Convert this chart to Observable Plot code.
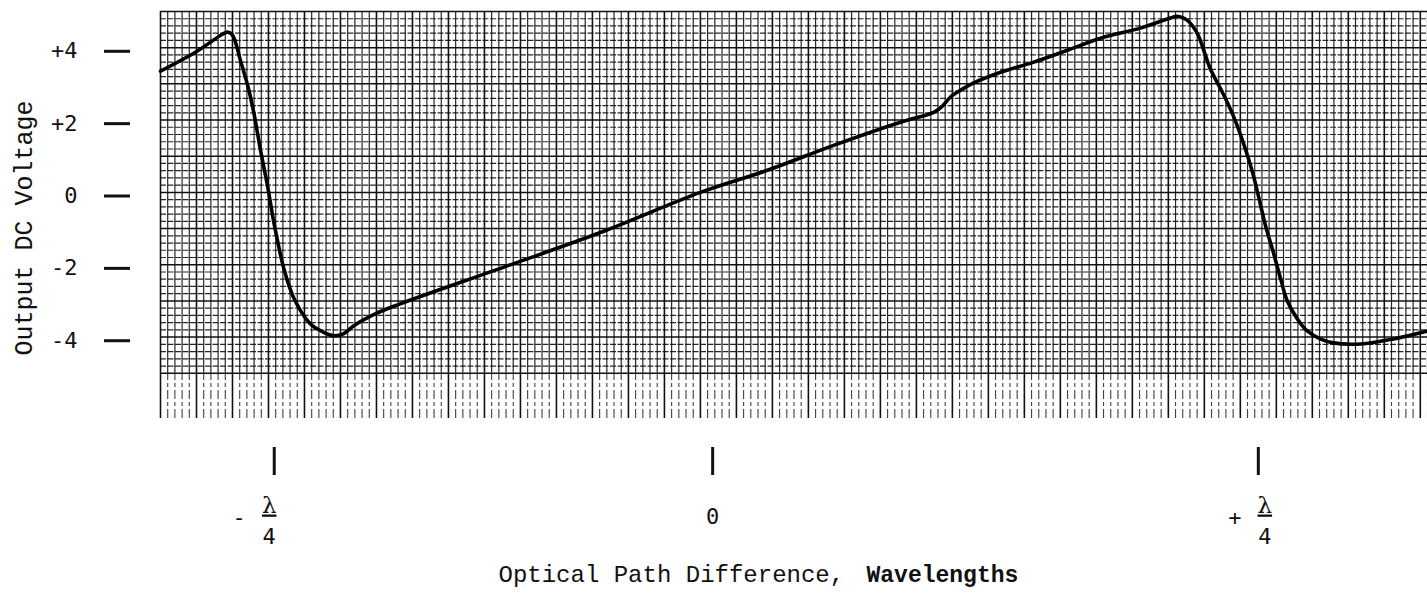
<!DOCTYPE html>
<html><head><meta charset="utf-8">
<script src="https://cdn.jsdelivr.net/npm/d3@7"></script>
<script src="https://cdn.jsdelivr.net/npm/@observablehq/plot@0.6"></script>
<style>body{margin:0;background:#fff} svg{display:block;background:#fff}</style>
</head><body><div id="chart"></div>
<script>
// x: recorder-paper divisions, y: output DC voltage (V)
const traceDiv = [0, 4.9, 8.6, 9.3, 10.0, 11.1, 12.1, 12.9, 13.9, 14.9, 15.7, 16.4, 17.1, 18.5, 20.8, 22.5, 24.0, 25.4, 26.8, 29.9, 33.3, 48.2, 61.1, 75.0, 84.3, 93.5, 102.8, 107.4, 108.6, 109.7, 111.1, 112.9, 116.7, 121.3, 126.0, 130.6, 136.1, 140.3, 141.2, 142.6, 144.0, 145.8, 147.5, 149.0, 150.4, 151.7, 152.5, 153.5, 154.6, 155.6, 156.5, 157.9, 159.3, 161.1, 162.9, 166.7, 171.3, 176.0];
const traceVolt = [3.45, 3.98, 4.47, 4.53, 4.45, 3.75, 3.06, 2.37, 1.26, 0.24, -0.68, -1.37, -1.98, -2.81, -3.53, -3.75, -3.86, -3.81, -3.59, -3.25, -2.98, -1.93, -1.01, 0.10, 0.71, 1.40, 2.04, 2.31, 2.48, 2.73, 2.92, 3.12, 3.42, 3.70, 4.03, 4.36, 4.64, 4.92, 4.97, 4.86, 4.50, 3.53, 2.87, 2.23, 1.48, 0.65, 0.01, -0.82, -1.57, -2.29, -2.89, -3.39, -3.73, -3.95, -4.06, -4.09, -3.95, -3.73];

const yTicks = [-4, -2, 0, 2, 4];
const yTickLabels = ["-4", "-2", "0", "+2", "+4"];
const markerDiv = [15.8, 76.7, 152.5];        // -λ/4, 0, +λ/4 marks
const fracLabelDiv = [15.1, 153.4];
const fracSigns = ["-", "+"];
const fracNumer = ["λ", "λ"];
const fracDenom = ["4", "4"];
const zeroLabelDiv = [76.7];
const zeroLabel = ["0"];
const xTitle = "Optical Path Difference,";
const xTitleBold = "Wavelengths";
const yTitle = "Output DC Voltage";

// paper extent
const paperLeft = 0, paperRight = 176;
const paperTop = 5.1, gridBottom = -4.9, paperBottom = -6.15;

const trace = traceDiv.map((x, i) => ({x, y: traceVolt[i]}));
const xGrid = d3.range(paperLeft, paperRight + 1);
const yGrid = d3.range(-49, 52, 2).map(k => k / 10);
const xHeavy = xGrid.filter(d => d % 5 === 0), xLight = xGrid.filter(d => d % 5 !== 0);
const yHeavy = yGrid.filter((d, i) => i % 5 === 0), yLight = yGrid.filter((d, i) => i % 5 !== 0);

const mono = "Liberation Mono, monospace";
const sansMono = "DejaVu Sans Mono, monospace";
const ink = "#111";

const plot = Plot.plot({
  width: 1427, height: 600,
  marginLeft: 160, marginRight: 0, marginTop: 11, marginBottom: 182,
  style: {background: "#fff", color: ink},
  x: {domain: [paperLeft, paperRight]},
  y: {domain: [paperBottom, paperTop]},
  marks: [
    // strip below the grid (vertical rulings only)
    Plot.ruleX(xLight, {y1: paperBottom, y2: gridBottom, stroke: ink, strokeWidth: 1.1, strokeOpacity: 0.8, strokeDasharray: "9,3,4,3"}),
    Plot.ruleX(xHeavy, {y1: paperBottom, y2: gridBottom, stroke: ink, strokeWidth: 1.6}),
    // chart grid
    Plot.ruleY(yLight, {stroke: ink, strokeWidth: 1.2, strokeOpacity: 0.9, strokeDasharray: "6,1.5"}),
    Plot.ruleY(yHeavy, {stroke: ink, strokeWidth: 1.5}),
    Plot.ruleX(xLight, {y1: gridBottom, y2: paperTop, stroke: ink, strokeWidth: 1.2, strokeOpacity: 0.9}),
    Plot.ruleX(xHeavy, {y1: gridBottom, y2: paperTop, stroke: ink, strokeWidth: 1.6}),
    // recorder trace
    Plot.line(trace, {x: "x", y: "y", stroke: "#000", strokeWidth: 3.6, curve: "catmull-rom"}),
    // y axis
    Plot.axisY({ticks: yTicks, tickFormat: (d) => yTickLabels[yTicks.indexOf(d)], tickSize: 26, tickPadding: 27, dx: -30, strokeWidth: 3, fontSize: 22, fontFamily: sansMono, label: null}),
    Plot.text([yTitle], {text: d => d, frameAnchor: "left", textAnchor: "middle", dx: -137, dy: 13, rotate: -90, fontSize: 25, fontFamily: mono, fill: ink}),
    // x markers
    Plot.axisX({ticks: markerDiv, tickSize: 28, dy: 29, strokeWidth: 3, fill: "none", label: null}),
    Plot.text(fracLabelDiv, {x: d => d, text: (d, i) => fracNumer[i], frameAnchor: "bottom", dy: 94, fontSize: 23, fontFamily: "DejaVu Serif, serif", fill: ink}),
    Plot.text(fracLabelDiv, {x: d => d, text: (d, i) => fracDenom[i], frameAnchor: "bottom", dy: 125, fontSize: 22, fontFamily: sansMono, fill: ink}),
    Plot.text(fracLabelDiv, {x: d => d, text: (d, i) => fracSigns[i], frameAnchor: "bottom", dx: -30, dy: 106, fontSize: 22, fontFamily: sansMono, fill: ink}),
    Plot.text(zeroLabelDiv, {x: d => d, text: (d, i) => zeroLabel[i], frameAnchor: "bottom", dy: 105, fontSize: 22, fontFamily: sansMono, fill: ink}),
    // x title
    Plot.text([xTitle], {text: d => d, frameAnchor: "bottom-left", dx: 338, dy: 163, textAnchor: "start", fontSize: 24, fontFamily: mono, fill: ink}),
    Plot.text([xTitleBold], {text: d => d, frameAnchor: "bottom-left", dx: 706, dy: 163, textAnchor: "start", fontSize: 23, fontWeight: "bold", fontFamily: mono, fill: ink})
  ]
});
d3.select(plot).selectAll("text").filter(function() { return this.textContent === "λ"; }).attr("text-decoration", "underline");
document.getElementById("chart").appendChild(plot);
</script>
</body></html>
